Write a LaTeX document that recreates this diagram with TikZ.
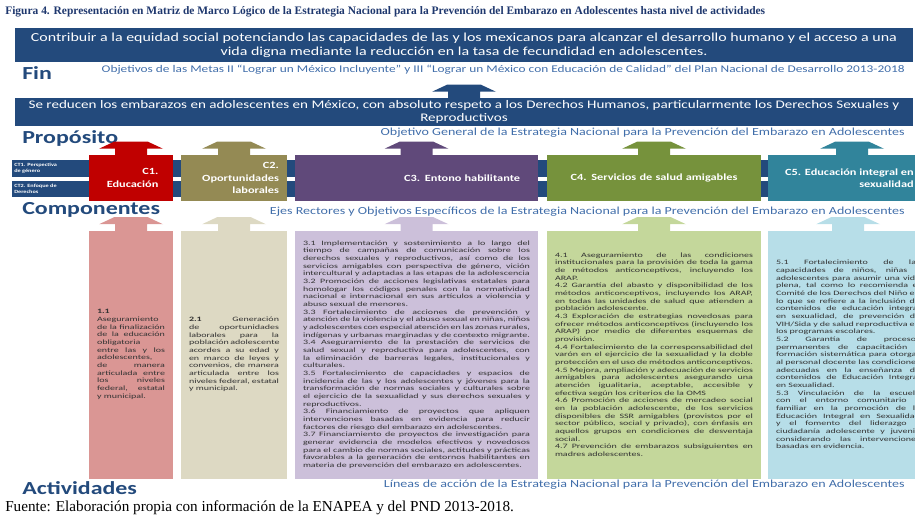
\documentclass[tikz,border=0pt]{standalone}
\usepackage{fontspec}
\setmainfont{Carlito}[FakeStretch=1.3]
\newfontfamily\actfont{Carlito}[FakeStretch=1.5]
\newfontfamily\serifcap{Liberation Serif}

\definecolor{navy}{RGB}{35,74,124}
\definecolor{noteblue}{RGB}{65,110,170}
\definecolor{capblue}{RGB}{31,56,110}
\definecolor{comprojo}{RGB}{192,0,0}
\definecolor{compolivo}{RGB}{148,138,84}
\definecolor{compmorado}{RGB}{96,73,122}
\definecolor{compverde}{RGB}{118,146,60}
\definecolor{compturq}{RGB}{49,132,155}
\definecolor{actrojo}{RGB}{218,150,148}
\definecolor{actolivo}{RGB}{221,217,195}
\definecolor{actmorado}{RGB}{204,192,218}
\definecolor{actverde}{RGB}{196,215,155}
\definecolor{actturq}{RGB}{183,222,232}

\newcommand\acttext{\actfont\fontsize{5}{5.75}\selectfont\hyphenpenalty=10000\exhyphenpenalty=10000\tolerance=9999\emergencystretch=1em}
\newcommand\blockarrow[2]{\fill[#1] (#2) ++(-16,1) -- ++(0,-7) -- ++(-16,0) -- ++(15,-7) -- ++(34,0) -- ++(15,7) -- ++(-16,0) -- ++(0,7) -- cycle;}

\tikzset{
    bigbox/.style={fill=navy,text=white,minimum width=673.5pt,inner sep=0pt,align=center},
    level/.style={anchor=west,text=navy,inner sep=0pt,font=\fontsize{13.8}{14}\selectfont\bfseries},
    note/.style={anchor=east,text=noteblue,inner sep=0pt,font=\fontsize{8.1}{9}\selectfont},
    band/.style={fill=navy,minimum width=677.25pt,inner sep=0pt},
    ctlabel/.style={anchor=west,text=white,align=left,inner sep=0pt,font=\fontsize{3.6}{4.3}\selectfont\bfseries},
    comp/.style={minimum height=34.5pt,inner ysep=0pt,text=white,align=right,font=\fontsize{7.1}{9.4}\selectfont\bfseries},
    act/.style={minimum height=186pt,inner xsep=6pt,inner ysep=0pt,text=black!80,align=justify,font=\acttext}
}

\begin{document}
\begin{tikzpicture}[x=0.75pt,y=-0.75pt]
    \clip (0,0) rectangle (915,518);

    \node[anchor=west,inner sep=0pt,text=capblue,font=\serifcap\fontsize{8.6}{9}\selectfont\bfseries]
        (titulo) at (5,12) {Figura 4. Representación en Matriz de Marco Lógico de la Estrategia Nacional para la Prevención del Embarazo en Adolescentes hasta nivel de actividades};

    \node[bigbox,minimum height=25.5pt,font=\fontsize{9.2}{10.5}\selectfont]
        (fin) at (464,45) {Contribuir a la equidad social potenciando las capacidades de las y los mexicanos para alcanzar el desarrollo humano y el acceso a una\\vida digna mediante la reducción en la tasa de fecundidad en adolescentes.};
    \node[level] (finlbl) at (22,73) {Fin};
    \node[note,font=\fontsize{7.7}{9}\selectfont] (finnota) at (905,70) {Objetivos de las Metas II “Lograr un México Incluyente” y III “Lograr un México con Educación de Calidad” del Plan Nacional de Desarrollo 2013-2018};

    \node[bigbox,minimum height=21pt,font=\fontsize{8.7}{9.75}\selectfont]
        (proposito) at (464,112) {Se reducen los embarazos en adolescentes en México, con absoluto respeto a los Derechos Humanos, particularmente los Derechos Sexuales y\\Reproductivos};
    \blockarrow{navy}{proposito.north}
    \node[level] (proplbl) at (22,138) {Propósito};
    \node[note] (propnota) at (905,133) {Objetivo General de la Estrategia Nacional para la Prevención del Embarazo en Adolescentes};

    \node[band,minimum height=12.75pt] (ct1) at (463.5,168.5) {};
    \node[band,minimum height=12pt] (ct2) at (463.5,189) {};
    \node[ctlabel] (ct1lbl) at (14,168.5) {CT1. Perspectiva\\de género};
    \node[ctlabel] (ct2lbl) at (14,189) {CT2. Enfoque de\\Derechos};

    \node[comp,fill=comprojo,inner xsep=11pt,text width=41pt]
        (c1) at (131,178) {C1.\\Educación};
    \node[comp,fill=compolivo,inner xsep=6pt,text width=67.5pt]
        (c2) at (234,178) {C2.\\Oportunidades\\laborales};
    \node[comp,fill=compmorado,inner xsep=13.5pt,text width=155.25pt]
        (c3) at (416.5,178) {C3. Entono habilitante};
    \node[comp,fill=compverde,inner xsep=9pt,text width=142.5pt,align=center]
        (c4) at (654,178) {C4. Servicios de salud amigables};
    \node[comp,fill=compturq,inner xsep=0pt,minimum width=126pt]
        (c5) at (852,178) {};
    \node[comp,anchor=east,minimum height=0pt,inner sep=0pt]
        (c5lbl) at (914,178) {C5. Educación integral en\\sexualidad};
    \blockarrow{comprojo}{c1.north}
    \blockarrow{compolivo}{c2.north}
    \blockarrow{compmorado}{c3.north}
    \blockarrow{compverde}{c4.north}
    \blockarrow{compturq}{c5.north}
    \node[level] (complbl) at (22,210) {Componentes};
    \node[note] (compnota) at (905,212) {Ejes Rectores y Objetivos Específicos de la Estrategia Nacional para la Prevención del Embarazo en Adolescentes};

    \node[act,fill=actrojo,text width=51pt]
        (a1) at (131,354.5) {\textbf{1.1}\\Aseguramiento de la finalización de la educación obligatoria entre las y los adolescentes, de manera articulada entre los niveles federal, estatal y municipal.};
    \node[act,fill=actolivo,text width=67.5pt]
        (a2) at (234,354.5) {\textbf{2.1} Generación de oportunidades laborales para la población adolescente acordes a su edad y en marco de leyes y convenios, de manera articulada entre los niveles federal, estatal y municipal.};
    \node[act,fill=actmorado,text width=170.25pt]
        (a3) at (416.5,354.5) {3.1 Implementación y sostenimiento a lo largo del tiempo de campañas de comunicación sobre los derechos sexuales y reproductivos, así como de los servicios amigables con perspectiva de género, vición intercultural y adaptadas a las etapas de la adolescencia\\
        3.2 Promoción de acciones legislativas estatales para homologar los códigos penales con la normatividad nacional e internacional en sus artículos a violencia y abuso sexual de menores.\\
        3.3 Fortalecimiento de acciones de prevención y atención de la violencia y el abuso sexual en niñas, niños y adolescentes con especial atención en las zonas rurales, indígenas y urbanas marginadas y de contexto migrante.\\
        3.4 Aseguramiento de la prestación de servicios de salud sexual y reproductiva para adolescentes, con la eliminación de barreras legales, institucionales y culturales.\\
        3.5 Fortalecimiento de capacidades y espacios de incidencia de las y los adolescentes y jóvenes para la transformación de normas sociales y culturales sobre el ejercicio de la sexualidad y sus derechos sexuales y reproductivos.\\
        3.6 Financiamiento de proyectos que apliquen intervenciones basadas en evidencia para reducir factores de riesgo del embarazo en adolescentes.\\
        3.7 Financiamiento de proyectos de investigación para generar evidencia de modelos efectivos y novedosos para el cambio de normas sociales, actitudes y prácticas favorables a la generación de entornos habilitantes en materia de prevención del embarazo en adolescentes.};
    \node[act,fill=actverde,text width=148.5pt]
        (a4) at (654,354.5) {4.1 Aseguramiento de las condiciones institucionales para la provisión de toda la gama de métodos anticonceptivos, incluyendo los ARAP.\\
        4.2 Garantía del abasto y disponibilidad de los métodos anticonceptivos, incluyendo los ARAP, en todas las unidades de salud que atienden a población adolescente.\\
        4.3 Exploración de estrategias novedosas para ofrecer métodos anticonceptivos (incluyendo los ARAP) por medio de diferentes esquemas de provisión.\\
        4.4 Fortalecimiento de la corresponsabilidad del varón en el ejercicio de la sexualidad y la doble protección en el uso de métodos anticonceptivos.\\
        4.5 Mejora, ampliación y adecuación de servicios amigables para adolescentes asegurando una atención igualitaria, aceptable, accesible y efectiva según los criterios de la OMS\\
        4.6 Promoción de acciones de mercadeo social en la población adolescente, de los servicios disponibles de SSR amigables (provistos por el sector público, social y privado), con énfasis en aquellos grupos en condiciones de desventaja social.\\
        4.7 Prevención de embarazos subsiguientes en madres adolescentes.};
    \node[act,fill=actturq,text width=108pt]
        (a5) at (848,354.5) {5.1 Fortalecimiento de las capacidades de niños, niñas y adolescentes para asumir una vida plena, tal como lo recomienda el Comité de los Derechos del Niño en lo que se refiere a la inclusión de contenidos de educación integral en sexualidad, de prevención de VIH/Sida y de salud reproductiva en los programas escolares.\\
        5.2 Garantía de procesos permanentes de capacitación y formación sistemática para otorgar al personal docente las condiciones adecuadas en la enseñanza de contenidos de Educación Integral en Sexualidad.\\
        5.3 Vinculación de la escuela con el entorno comunitario y familiar en la promoción de la Educación Integral en Sexualidad y el fomento del liderazgo y ciudadanía adolescente y juvenil, considerando las intervenciones basadas en evidencia.};
    \blockarrow{actrojo}{a1.north}
    \blockarrow{actolivo}{a2.north}
    \blockarrow{actmorado}{a3.north}
    \blockarrow{actverde}{a4.north}
    \blockarrow{actturq}{a5.north}
    \node[level] (actlbl) at (22,488) {Actividades};
    \node[note] (actnota) at (905,485) {Líneas de acción de la Estrategia Nacional para la Prevención del Embarazo en Adolescentes};

    \node[anchor=west,inner sep=0pt,font=\serifcap\fontsize{11.4}{13}\selectfont]
        (fuente) at (5,508) {Fuente: Elaboración propia con información de la ENAPEA y del PND 2013-2018.};
\end{tikzpicture}
\end{document}
